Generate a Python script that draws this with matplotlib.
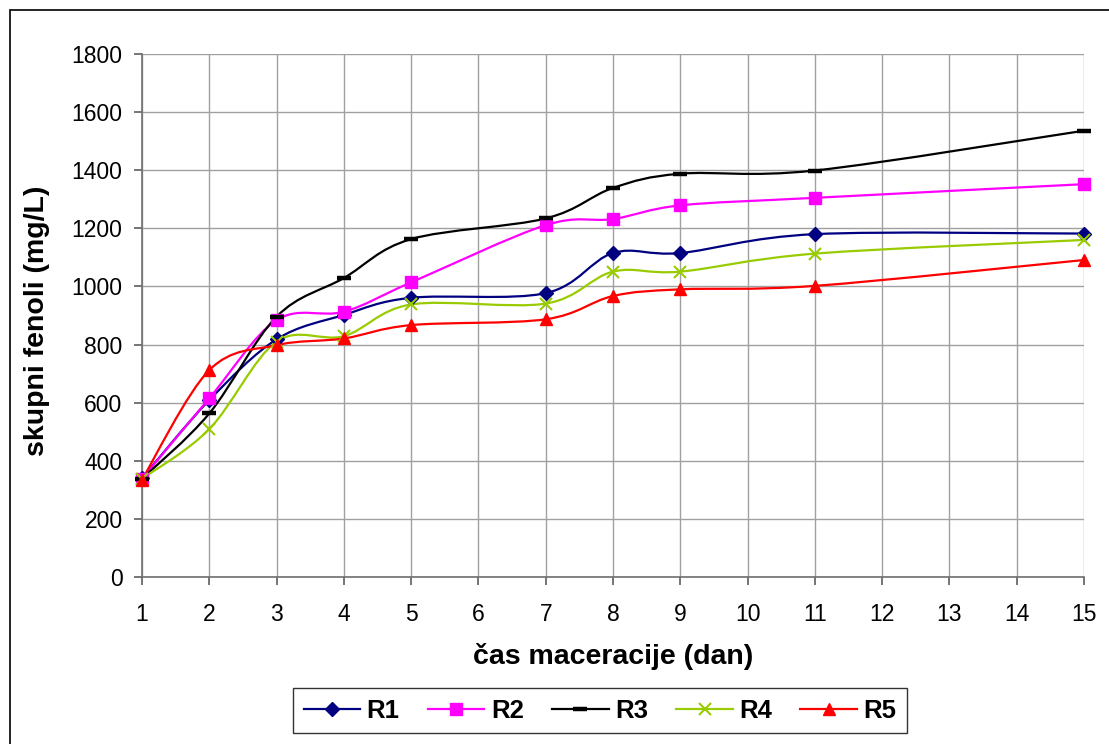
import matplotlib
matplotlib.use("Agg")
import matplotlib.pyplot as plt
from matplotlib.path import Path
from matplotlib.patches import PathPatch, Rectangle
from matplotlib.lines import Line2D
import numpy as np

plt.rcParams['font.family'] = ['Liberation Sans', 'DejaVu Sans']

days = [1, 2, 3, 4, 5, 7, 8, 9, 11, 15]
R1 = [340, 609, 818, 902, 961, 977, 1115, 1115, 1180, 1182]
R2 = [338, 615, 884, 913, 1014, 1211, 1232, 1279, 1305, 1352]
R3 = [338, 563, 896, 1029, 1163, 1234, 1339, 1388, 1399, 1536]
R4 = [338, 509, 810, 829, 938, 941, 1051, 1051, 1113, 1160]
R5 = [335, 712, 798, 821, 867, 887, 967, 990, 1002, 1091]
series_names = ["R1", "R2", "R3", "R4", "R5"]
series_vals = [R1, R2, R3, R4, R5]
xticks = list(range(1, 16))
yticks = list(range(0, 1801, 200))

colors = ["#000080", "#FF00FF", "#000000", "#99CC00", "#FF0000"]
markers = ["D", "s", "_", "x", "^"]
msizes = [7.5, 8, 10, 8, 9]
mews = [1, 1, 3.2, 1.5, 1]

W, H = 1109, 744
fig = plt.figure(figsize=(W/100, H/100), dpi=100)
ax = fig.add_axes([142/W, 1-577/H, (1084-142)/W, (577-54)/H])
ax.set_xlim(1, 15)
ax.set_ylim(0, 1800)
ax.set_xticks(xticks)
ax.set_yticks(yticks)
ax.grid(True, color="#a0a0a0", linewidth=1.0)
ax.set_axisbelow(True)
for s in ["top", "right"]:
    ax.spines[s].set_visible(False)
for s in ["left", "bottom"]:
    ax.spines[s].set_color("#707070")
    ax.spines[s].set_linewidth(1.2)
ax.tick_params(axis="both", labelsize=16.5, length=6, width=1.1, color="#505050")
ax.tick_params(axis="y", pad=8)
ax.tick_params(axis="x", pad=13)


def smooth_path(xs, ys):
    pts = np.column_stack([xs, ys]).astype(float)
    n = len(pts)
    verts = [pts[0]]
    codes = [Path.MOVETO]
    for i in range(n - 1):
        p0 = pts[i - 1] if i > 0 else pts[i]
        p1 = pts[i]
        p2 = pts[i + 1]
        p3 = pts[i + 2] if i + 2 < n else pts[i + 1]
        c1 = p1 + (p2 - p0) / 6.0
        c2 = p2 - (p3 - p1) / 6.0
        verts += [c1, c2, p2]
        codes += [Path.CURVE4] * 3
    return Path(verts, codes)


handles = []
for name, vals, c, m, ms, mw in zip(series_names, series_vals, colors, markers, msizes, mews):
    patch = PathPatch(smooth_path(days, vals), fill=False, edgecolor=c, linewidth=1.6,
                      transform=ax.transData, zorder=3)
    ax.add_patch(patch)
    ax.plot(days, vals, linestyle="none", marker=m, markersize=ms, color=c,
            markeredgewidth=mw, zorder=4, clip_on=False)
    handles.append(Line2D([], [], color=c, linewidth=1.6, marker=m, markersize=ms,
                          markeredgewidth=mw, label=name))

ax.set_xlabel("čas maceracije (dan)", fontsize=20.5, fontweight="bold", va="center")
ax.xaxis.set_label_coords((613-142)/942, (577-657)/523)
ax.set_ylabel("skupni fenoli (mg/L)", fontsize=20.5, fontweight="bold", va="center", ha="center")
ax.yaxis.set_label_coords((37.5-142)/942, (577-321)/523)

leg = fig.legend(handles=handles, loc="center", bbox_to_anchor=(600/W, 1-710.5/H),
                 ncol=5, frameon=True, fancybox=False, edgecolor="black",
                 prop={"size": 18.5, "weight": "bold"}, handlelength=2.2,
                 columnspacing=1.1, handletextpad=0.25, borderpad=0.4)
leg.get_frame().set_linewidth(1.0)

fig.patches.append(Rectangle((10/W, -0.05), 1.2, 1-10/H+0.05,
                             transform=fig.transFigure, fill=False,
                             edgecolor="black", linewidth=1.2))

fig.savefig("out.png", dpi=100)
